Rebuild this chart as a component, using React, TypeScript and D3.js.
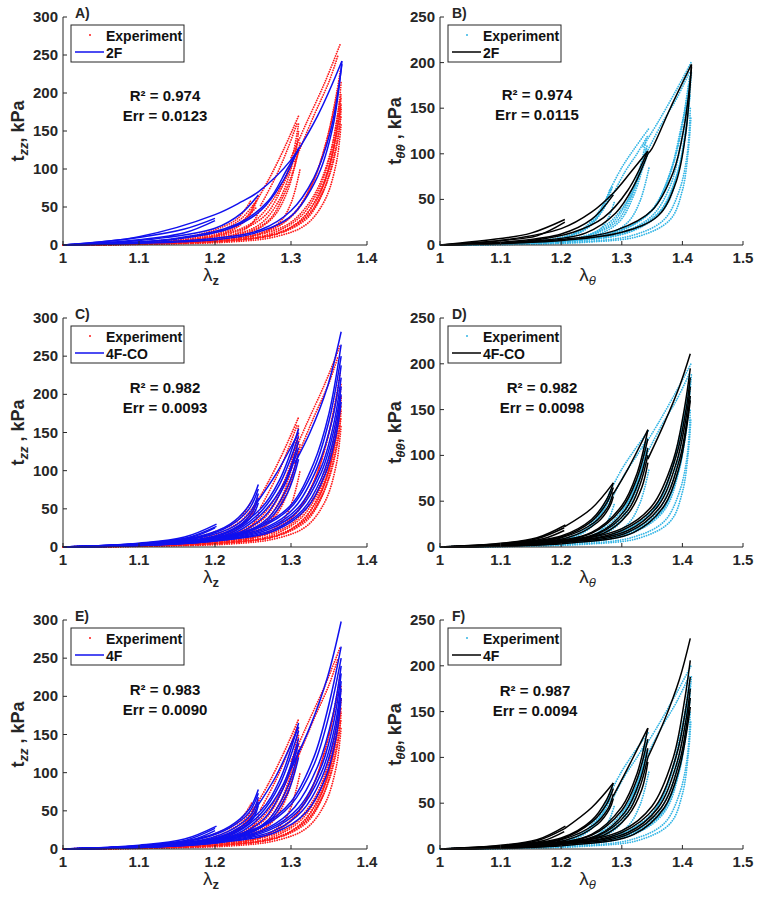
import React from "react";
import * as d3 from "d3";

type Pt = [number, number];

// ---------- tick values ----------
const xTicksAxial = [1, 1.1, 1.2, 1.3, 1.4];
const xTicksCirc = [1, 1.1, 1.2, 1.3, 1.4, 1.5];
const yTicksAxial = [0, 50, 100, 150, 200, 250, 300];
const yTicksCirc = [0, 50, 100, 150, 200, 250];

// ---------- annotations ----------
const panelLetters = ["A)", "B)", "C)", "D)", "E)", "F)"];
const modelNames = ["2F", "2F", "4F-CO", "4F-CO", "4F", "4F"];
const r2Values = ["0.974", "0.974", "0.982", "0.982", "0.983", "0.987"];
const errValues = ["0.0123", "0.0115", "0.0093", "0.0098", "0.0090", "0.0094"];

// ---------- experimental data (axial, lambda_z vs t_zz) ----------
const expAxial: Pt[][] = [
  [[1, 0], [1.1, 3], [1.17, 9], [1.21, 20], [1.235, 35], [1.252, 55]],
  [[1, 0], [1.1, 2.5], [1.17, 8], [1.21, 17], [1.24, 35], [1.255, 60]],
  [[1, 0], [1.1, 2], [1.18, 8], [1.22, 18], [1.245, 38], [1.257, 65]],
  [[1, 0], [1.12, 3], [1.19, 10], [1.225, 22], [1.245, 40], [1.255, 50]],
  [[1, 0], [1.1, 3.5], [1.16, 10], [1.2, 20], [1.23, 35], [1.248, 60]],
  [[1, 0], [1.12, 2.5], [1.2, 8], [1.235, 18], [1.25, 30], [1.258, 45]],
  [[1, 0], [1.15, 4], [1.22, 12], [1.26, 28], [1.285, 60], [1.3, 100], [1.31, 140]],
  [[1, 0], [1.15, 4], [1.23, 13], [1.27, 32], [1.29, 65], [1.305, 105], [1.312, 135]],
  [[1, 0], [1.15, 5], [1.22, 15], [1.265, 38], [1.29, 80], [1.305, 120], [1.31, 150]],
  [[1, 0], [1.16, 4], [1.24, 14], [1.275, 35], [1.295, 70], [1.31, 125]],
  [[1, 0], [1.14, 5], [1.21, 14], [1.25, 30], [1.28, 65], [1.3, 110], [1.31, 160]],
  [[1, 0], [1.17, 4], [1.25, 12], [1.285, 30], [1.3, 55], [1.312, 100]],
  [[1.25, 50], [1.27, 85], [1.29, 125], [1.31, 170]],
  [[1.26, 52], [1.28, 90], [1.295, 125], [1.308, 160]],
  [[1.3, 115], [1.32, 160], [1.345, 215], [1.365, 265]],
  [[1.305, 110], [1.33, 170], [1.35, 215], [1.362, 250]],
  [[1, 0], [1.2, 6], [1.26, 14], [1.3, 30], [1.33, 65], [1.35, 115], [1.362, 175], [1.366, 215]],
  [[1, 0], [1.2, 5], [1.27, 14], [1.31, 35], [1.335, 70], [1.352, 120], [1.364, 190]],
  [[1, 0], [1.2, 5], [1.28, 15], [1.315, 35], [1.34, 75], [1.355, 125], [1.366, 200]],
  [[1, 0], [1.22, 6], [1.29, 18], [1.32, 40], [1.345, 85], [1.36, 145], [1.366, 185]],
  [[1, 0], [1.2, 7], [1.26, 16], [1.3, 38], [1.325, 75], [1.345, 130], [1.36, 200], [1.365, 230]],
  [[1, 0], [1.22, 6], [1.28, 14], [1.32, 34], [1.34, 65], [1.356, 115], [1.366, 170]],
  [[1, 0], [1.2, 6], [1.27, 18], [1.305, 42], [1.33, 85], [1.35, 150], [1.362, 205]],
  [[1, 0], [1.21, 5], [1.285, 16], [1.325, 42], [1.348, 95], [1.362, 160], [1.366, 195]],
  [[1, 0], [1.2, 4], [1.26, 10], [1.3, 22], [1.33, 48], [1.35, 90], [1.362, 140], [1.366, 180]],
  [[1, 0], [1.22, 4], [1.28, 11], [1.32, 27], [1.345, 60], [1.36, 110], [1.366, 160]],
];

// ---------- experimental data (circumferential, lambda_theta vs t_thetatheta) ----------
const expCirc: Pt[][] = [
  [[1, 0], [1.1, 2], [1.18, 6], [1.23, 15], [1.26, 32], [1.28, 60]],
  [[1, 0], [1.1, 2], [1.19, 6], [1.24, 17], [1.265, 35], [1.283, 55]],
  [[1, 0], [1.12, 2], [1.2, 7], [1.245, 20], [1.27, 40], [1.285, 65]],
  [[1, 0], [1.1, 2.5], [1.2, 8], [1.24, 20], [1.27, 45], [1.282, 62]],
  [[1, 0], [1.14, 2], [1.22, 6], [1.26, 15], [1.278, 30], [1.288, 48]],
  [[1, 0], [1.15, 3], [1.23, 8], [1.28, 22], [1.31, 48], [1.33, 80], [1.34, 105]],
  [[1, 0], [1.15, 3], [1.24, 9], [1.29, 25], [1.315, 52], [1.335, 90], [1.342, 110]],
  [[1, 0], [1.16, 3], [1.25, 9], [1.295, 25], [1.32, 55], [1.335, 85], [1.343, 100]],
  [[1, 0], [1.15, 3], [1.24, 10], [1.28, 25], [1.31, 50], [1.33, 85], [1.34, 115]],
  [[1, 0], [1.18, 3], [1.27, 10], [1.31, 25], [1.33, 48], [1.345, 85]],
  [[1.28, 60], [1.3, 85], [1.32, 105], [1.345, 128]],
  [[1.285, 55], [1.305, 80], [1.325, 100], [1.343, 120]],
  [[1.335, 108], [1.36, 135], [1.39, 170], [1.415, 201]],
  [[1.34, 100], [1.365, 132], [1.39, 160], [1.412, 190]],
  [[1, 0], [1.2, 4], [1.3, 14], [1.35, 32], [1.38, 65], [1.4, 120], [1.413, 180]],
  [[1, 0], [1.2, 4], [1.3, 13], [1.36, 35], [1.39, 75], [1.405, 125], [1.413, 165]],
  [[1, 0], [1.22, 4], [1.32, 16], [1.37, 40], [1.395, 85], [1.41, 150]],
  [[1, 0], [1.2, 5], [1.29, 15], [1.345, 35], [1.375, 70], [1.395, 115], [1.41, 175]],
  [[1, 0], [1.21, 4], [1.31, 14], [1.365, 38], [1.39, 75], [1.405, 120], [1.415, 190]],
  [[1, 0], [1.22, 5], [1.3, 16], [1.35, 38], [1.38, 80], [1.4, 135], [1.41, 160]],
  [[1, 0], [1.2, 5], [1.3, 17], [1.355, 42], [1.385, 90], [1.403, 145], [1.412, 185]],
  [[1, 0], [1.22, 3], [1.32, 11], [1.37, 28], [1.395, 60], [1.408, 100], [1.413, 150]],
  [[1, 0], [1.24, 3], [1.33, 10], [1.38, 28], [1.4, 60], [1.41, 105], [1.414, 140]],
];

// ---------- model 2F ----------
const model2FAxial: Pt[][] = [
  [[1, 0], [1.1, 10], [1.16, 21], [1.2, 35]],
  [[1, 0], [1.1, 7], [1.16, 16], [1.2, 32]],
  [[1, 0], [1.1, 11], [1.2, 40], [1.235, 57], [1.257, 70], [1.3, 112], [1.335, 170], [1.367, 242]],
  [[1, 0], [1.12, 8], [1.2, 22], [1.235, 42], [1.257, 66]],
  [[1, 0], [1.15, 8], [1.22, 22], [1.26, 45], [1.29, 85], [1.31, 128]],
  [[1, 0], [1.15, 9], [1.23, 28], [1.27, 58], [1.295, 100], [1.31, 125]],
  [[1, 0], [1.2, 7], [1.25, 15], [1.3, 38], [1.335, 90], [1.355, 155], [1.367, 242]],
  [[1, 0], [1.2, 9], [1.26, 20], [1.3, 45], [1.33, 88], [1.352, 150], [1.367, 238]],
];
const model2FCirc: Pt[][] = [
  [[1, 0], [1.1, 7], [1.15, 13], [1.206, 28]],
  [[1, 0], [1.1, 5], [1.16, 10], [1.206, 25]],
  [[1, 0], [1.1, 5], [1.2, 18], [1.25, 36], [1.286, 57], [1.315, 80], [1.343, 103]],
  [[1, 0], [1.12, 4], [1.2, 12], [1.25, 28], [1.286, 55]],
  [[1, 0], [1.15, 5], [1.22, 14], [1.27, 30], [1.31, 60], [1.343, 103]],
  [[1, 0], [1.15, 4], [1.24, 13], [1.29, 35], [1.32, 65], [1.343, 100]],
  [[1.343, 100], [1.35, 106], [1.38, 150], [1.415, 198]],
  [[1, 0], [1.2, 5], [1.3, 14], [1.36, 32], [1.39, 70], [1.405, 120], [1.415, 198]],
  [[1, 0], [1.2, 6], [1.29, 16], [1.35, 38], [1.385, 80], [1.403, 130], [1.415, 195]],
];

// ---------- model 4F-CO ----------
const model4FCOAxial: Pt[][] = [
  [[1, 0], [1.1, 5], [1.16, 13], [1.202, 30]],
  [[1, 0], [1.1, 4], [1.16, 11], [1.202, 27]],
  [[1, 0], [1.1, 4.5], [1.17, 13], [1.2, 25]],
  [[1, 0], [1.1, 4], [1.18, 14], [1.22, 30], [1.245, 55], [1.257, 82]],
  [[1, 0], [1.1, 4], [1.18, 13], [1.22, 28], [1.245, 50], [1.257, 76]],
  [[1, 0], [1.1, 3.5], [1.18, 12], [1.225, 27], [1.248, 48], [1.257, 70]],
  [[1, 0], [1.1, 3.5], [1.19, 12], [1.23, 27], [1.25, 47], [1.257, 64]],
  [[1, 0], [1.1, 3], [1.19, 11], [1.23, 25], [1.25, 42], [1.257, 58]],
  [[1, 0], [1.15, 6], [1.21, 17], [1.26, 50], [1.285, 88], [1.31, 155]],
  [[1, 0], [1.15, 6], [1.22, 18], [1.26, 46], [1.285, 82], [1.31, 145]],
  [[1, 0], [1.15, 5], [1.22, 16], [1.26, 42], [1.29, 82], [1.31, 138]],
  [[1, 0], [1.15, 5], [1.225, 16], [1.265, 40], [1.29, 78], [1.31, 130]],
  [[1, 0], [1.15, 5], [1.23, 16], [1.27, 38], [1.295, 78], [1.31, 122]],
  [[1, 0], [1.16, 5], [1.23, 15], [1.27, 35], [1.295, 70], [1.31, 115]],
  [[1, 0], [1.2, 12], [1.26, 28], [1.3, 55], [1.33, 110], [1.35, 175], [1.366, 265]],
  [[1, 0], [1.2, 11], [1.26, 26], [1.3, 52], [1.33, 102], [1.35, 165], [1.366, 250]],
  [[1, 0], [1.2, 10], [1.27, 27], [1.305, 52], [1.335, 105], [1.355, 170], [1.366, 238]],
  [[1, 0], [1.2, 10], [1.27, 25], [1.31, 52], [1.34, 105], [1.357, 165], [1.366, 222]],
  [[1, 0], [1.2, 9], [1.27, 23], [1.31, 48], [1.34, 98], [1.358, 160], [1.366, 210]],
  [[1, 0], [1.2, 8], [1.28, 24], [1.315, 48], [1.34, 90], [1.358, 150], [1.366, 200]],
  [[1, 0], [1.2, 8], [1.28, 22], [1.32, 50], [1.345, 95], [1.36, 150], [1.366, 190]],
  [[1.305, 110], [1.325, 150], [1.348, 210], [1.366, 282]],
  [[1.255, 58], [1.28, 95], [1.31, 150]],
];
const model4FCOCirc: Pt[][] = [
  [[1, 0], [1.1, 4], [1.16, 10], [1.207, 24]],
  [[1, 0], [1.1, 3.5], [1.16, 9], [1.205, 21]],
  [[1, 0], [1.1, 3], [1.17, 9], [1.205, 18]],
  [[1, 0], [1.1, 3], [1.2, 12], [1.25, 30], [1.275, 52], [1.286, 70]],
  [[1, 0], [1.1, 3], [1.2, 11], [1.25, 28], [1.275, 48], [1.286, 65]],
  [[1, 0], [1.1, 2.5], [1.2, 10], [1.255, 27], [1.278, 45], [1.286, 60]],
  [[1, 0], [1.1, 2.5], [1.21, 10], [1.26, 27], [1.28, 44], [1.286, 55]],
  [[1, 0], [1.15, 4], [1.25, 16], [1.3, 45], [1.325, 80], [1.343, 128]],
  [[1, 0], [1.15, 4], [1.25, 15], [1.3, 42], [1.325, 75], [1.343, 118]],
  [[1, 0], [1.15, 4], [1.26, 15], [1.305, 40], [1.33, 75], [1.343, 108]],
  [[1, 0], [1.15, 3.5], [1.26, 14], [1.31, 40], [1.33, 68], [1.343, 100]],
  [[1, 0], [1.16, 3.5], [1.27, 15], [1.31, 36], [1.333, 65], [1.343, 92]],
  [[1, 0], [1.2, 6], [1.3, 20], [1.35, 45], [1.385, 95], [1.403, 150], [1.413, 195]],
  [[1, 0], [1.2, 5], [1.3, 18], [1.355, 45], [1.39, 100], [1.406, 150], [1.413, 185]],
  [[1, 0], [1.2, 5], [1.31, 18], [1.36, 45], [1.39, 92], [1.407, 145], [1.413, 175]],
  [[1, 0], [1.2, 5], [1.31, 16], [1.365, 45], [1.395, 95], [1.408, 140], [1.413, 165]],
  [[1, 0], [1.21, 4], [1.32, 16], [1.37, 45], [1.395, 88], [1.408, 135], [1.413, 160]],
  [[1.205, 22], [1.25, 42], [1.286, 70]],
  [[1.286, 58], [1.31, 85], [1.343, 128]],
  [[1.343, 96], [1.37, 135], [1.395, 175], [1.413, 211]],
];

// ---------- model 4F ----------
const model4FAxial: Pt[][] = [
  [[1, 0], [1.1, 5], [1.16, 13], [1.202, 30]],
  [[1, 0], [1.1, 4], [1.16, 11], [1.2, 27]],
  [[1, 0], [1.1, 4], [1.17, 12], [1.2, 24]],
  [[1, 0], [1.1, 4], [1.18, 14], [1.22, 30], [1.245, 52], [1.257, 78]],
  [[1, 0], [1.1, 4], [1.18, 13], [1.22, 28], [1.245, 48], [1.257, 73]],
  [[1, 0], [1.1, 3.5], [1.185, 12], [1.225, 27], [1.248, 46], [1.257, 68]],
  [[1, 0], [1.1, 3.5], [1.19, 12], [1.23, 26], [1.25, 44], [1.257, 62]],
  [[1, 0], [1.1, 3], [1.19, 11], [1.23, 24], [1.25, 40], [1.257, 57]],
  [[1, 0], [1.15, 6], [1.21, 17], [1.26, 50], [1.285, 90], [1.31, 165]],
  [[1, 0], [1.15, 6], [1.22, 18], [1.26, 46], [1.285, 84], [1.31, 155]],
  [[1, 0], [1.15, 5], [1.22, 16], [1.26, 42], [1.29, 85], [1.31, 145]],
  [[1, 0], [1.15, 5], [1.225, 16], [1.265, 40], [1.29, 80], [1.31, 138]],
  [[1, 0], [1.15, 5], [1.23, 16], [1.27, 38], [1.295, 80], [1.31, 130]],
  [[1, 0], [1.16, 5], [1.23, 15], [1.27, 35], [1.295, 72], [1.31, 120]],
  [[1, 0], [1.2, 12], [1.26, 30], [1.3, 62], [1.33, 120], [1.35, 190], [1.366, 265]],
  [[1, 0], [1.2, 11], [1.26, 28], [1.3, 58], [1.33, 110], [1.35, 175], [1.366, 250]],
  [[1, 0], [1.2, 10], [1.27, 28], [1.305, 55], [1.335, 108], [1.355, 175], [1.366, 240]],
  [[1, 0], [1.2, 10], [1.27, 26], [1.31, 54], [1.34, 108], [1.357, 170], [1.366, 230]],
  [[1, 0], [1.2, 9], [1.27, 24], [1.31, 50], [1.34, 100], [1.358, 162], [1.366, 220]],
  [[1, 0], [1.2, 8], [1.28, 25], [1.315, 50], [1.34, 92], [1.358, 152], [1.366, 210]],
  [[1, 0], [1.2, 8], [1.28, 22], [1.32, 48], [1.345, 92], [1.36, 150], [1.366, 198]],
  [[1.3, 105], [1.325, 160], [1.348, 225], [1.366, 298]],
  [[1.255, 55], [1.28, 95], [1.31, 160]],
];
const model4FCirc: Pt[][] = [
  [[1, 0], [1.1, 4], [1.16, 10], [1.207, 25]],
  [[1, 0], [1.1, 3.5], [1.16, 9], [1.205, 22]],
  [[1, 0], [1.1, 3], [1.17, 9], [1.205, 19]],
  [[1, 0], [1.1, 3], [1.2, 12], [1.25, 31], [1.275, 54], [1.286, 72]],
  [[1, 0], [1.1, 3], [1.2, 11], [1.25, 29], [1.275, 49], [1.286, 66]],
  [[1, 0], [1.1, 2.5], [1.2, 10], [1.255, 27], [1.278, 45], [1.286, 60]],
  [[1, 0], [1.1, 2.5], [1.21, 10], [1.26, 27], [1.28, 44], [1.286, 55]],
  [[1, 0], [1.15, 4], [1.25, 16], [1.3, 46], [1.325, 82], [1.343, 132]],
  [[1, 0], [1.15, 4], [1.25, 15], [1.3, 42], [1.325, 76], [1.343, 120]],
  [[1, 0], [1.15, 4], [1.26, 15], [1.305, 40], [1.33, 75], [1.343, 110]],
  [[1, 0], [1.15, 3.5], [1.26, 14], [1.31, 40], [1.33, 68], [1.343, 100]],
  [[1, 0], [1.16, 3.5], [1.27, 15], [1.31, 36], [1.333, 65], [1.343, 95]],
  [[1, 0], [1.2, 6], [1.3, 20], [1.35, 47], [1.385, 100], [1.403, 160], [1.413, 206]],
  [[1, 0], [1.2, 5], [1.3, 18], [1.355, 46], [1.39, 102], [1.406, 155], [1.413, 188]],
  [[1, 0], [1.2, 5], [1.31, 18], [1.36, 45], [1.39, 92], [1.407, 145], [1.413, 175]],
  [[1, 0], [1.2, 5], [1.31, 16], [1.365, 45], [1.395, 95], [1.408, 140], [1.413, 165]],
  [[1, 0], [1.21, 4], [1.32, 16], [1.37, 45], [1.395, 88], [1.408, 132], [1.413, 155]],
  [[1.205, 22], [1.25, 45], [1.286, 72]],
  [[1.286, 58], [1.315, 95], [1.343, 132]],
  [[1.343, 100], [1.37, 140], [1.395, 185], [1.413, 230]],
];

// ---------- rendering ----------
const FONT = "'Liberation Sans', Arial, Helvetica, sans-serif";
const AXIS = "#262626";
const RED = "#ff1a1a";
const BLUE = "#1010ee";
const CYAN = "#33b5e5";
const BLACK = "#000000";

interface PanelProps {
  idx: number;
  left: number;
  right: number;
  top: number;
  bottom: number;
  axial: boolean;
  exp: Pt[][];
  model: Pt[][];
  r2Dy: number;
  r2Cx: number;
}

function Panel(p: PanelProps) {
  const xDomain = p.axial ? [1, 1.4] : [1, 1.5];
  const yDomain = p.axial ? [0, 300] : [0, 250];
  const xTicks = p.axial ? xTicksAxial : xTicksCirc;
  const yTicks = p.axial ? yTicksAxial : yTicksCirc;
  const xs = d3.scaleLinear().domain(xDomain).range([p.left, p.right]);
  const ys = d3.scaleLinear().domain(yDomain).range([p.bottom, p.top]);
  const line = d3
    .line<Pt>()
    .x((d) => xs(d[0]))
    .y((d) => ys(d[1]))
    .curve(d3.curveCatmullRom.alpha(0.5));
  const expColor = p.axial ? RED : CYAN;
  const modelColor = p.axial ? BLUE : BLACK;
  const lgX = p.left + 8;
  const lgY = p.top + 8;
  const midX = (p.left + p.right) / 2;
  const midY = (p.top + p.bottom) / 2;
  const sub = p.axial ? "zz" : "\u03B8\u03B8";
  return (
    <g>
      {p.exp.map((c, i) => (
        <path
          key={"e" + i}
          d={line(c) || ""}
          fill="none"
          stroke={expColor}
          strokeWidth={1.8}
          strokeLinecap="round"
          strokeDasharray="0.01 2.4"
        />
      ))}
      {p.model.map((c, i) => (
        <path
          key={"m" + i}
          d={line(c) || ""}
          fill="none"
          stroke={modelColor}
          strokeWidth={1.5}
          strokeLinejoin="round"
        />
      ))}
      <line x1={p.left} x2={p.left} y1={p.top} y2={p.bottom} stroke={AXIS} strokeWidth={1} />
      <line x1={p.left} x2={p.right} y1={p.bottom} y2={p.bottom} stroke={AXIS} strokeWidth={1} />
      {xTicks.map((t) => (
        <g key={"xt" + t}>
          <line x1={xs(t)} x2={xs(t)} y1={p.bottom} y2={p.bottom - 4} stroke={AXIS} strokeWidth={1} />
          <text
            x={xs(t)}
            y={p.bottom + 18}
            textAnchor="middle"
            fontFamily={FONT}
            fontWeight="bold"
            fontSize={15}
            fill="#262626"
          >
            {d3.format("~g")(t)}
          </text>
        </g>
      ))}
      {yTicks.map((t) => (
        <g key={"yt" + t}>
          <line x1={p.left} x2={p.left + 4} y1={ys(t)} y2={ys(t)} stroke={AXIS} strokeWidth={1} />
          <text
            x={p.left - 5}
            y={ys(t) + 5}
            textAnchor="end"
            fontFamily={FONT}
            fontWeight="bold"
            fontSize={15}
            fill="#262626"
          >
            {t}
          </text>
        </g>
      ))}
      <text x={midX - 4} y={p.bottom + 36} textAnchor="middle" fontFamily={FONT} fontSize={19} fill="#262626">
        {"\u03BB"}
        <tspan
          dy={4}
          fontSize={13}
          fontStyle={p.axial ? "normal" : "italic"}
          fontWeight={p.axial ? "bold" : "normal"}
        >
          {p.axial ? "z" : "\u03B8"}
        </tspan>
      </text>
      <text
        transform={`translate(${p.left - 39},${midY}) rotate(-90)`}
        textAnchor="middle"
        fontFamily={FONT}
        fontWeight="bold"
        fontSize={18}
        fill="#262626"
      >
        t
        <tspan dy={4} fontSize={13} fontStyle="italic">
          {sub}
        </tspan>
        <tspan dy={-4}>{p.idx === 0 || p.idx === 3 || p.idx === 5 ? ", kPa" : " , kPa"}</tspan>
      </text>
      <text x={p.left + 12} y={p.top + 1} fontFamily={FONT} fontWeight="bold" fontSize={14} fill="#262626">
        {panelLetters[p.idx]}
      </text>
      <rect x={lgX} y={lgY} width={113} height={37} fill="white" stroke={AXIS} strokeWidth={1} />
      <circle cx={lgX + 19} cy={lgY + 10} r={1} fill={expColor} />
      <text x={lgX + 35} y={lgY + 15.5} fontFamily={FONT} fontWeight="bold" fontSize={14} fill="#111">
        Experiment
      </text>
      <line x1={lgX + 4} x2={lgX + 33} y1={lgY + 27} y2={lgY + 27} stroke={modelColor} strokeWidth={1.5} />
      <text x={lgX + 35} y={lgY + 32.5} fontFamily={FONT} fontWeight="bold" fontSize={14} fill="#111">
        {modelNames[p.idx]}
      </text>
      <text
        x={p.r2Cx}
        y={p.top + p.r2Dy}
        textAnchor="middle"
        fontFamily={FONT}
        fontWeight="bold"
        fontSize={15}
        fill="#111"
      >
        {"R\u00B2 = " + r2Values[p.idx]}
      </text>
      <text
        x={p.r2Cx}
        y={p.top + p.r2Dy + 20}
        textAnchor="middle"
        fontFamily={FONT}
        fontWeight="bold"
        fontSize={15}
        fill="#111"
      >
        {"Err = " + errValues[p.idx]}
      </text>
    </g>
  );
}

export default function App() {
  const cols = [
    { left: 63, right: 367 },
    { left: 440, right: 743 },
  ];
  const rows = [
    { top: 17, bottom: 245 },
    { top: 318, bottom: 547 },
    { top: 620, bottom: 849 },
  ];
  const models = [model2FAxial, model2FCirc, model4FCOAxial, model4FCOCirc, model4FAxial, model4FCirc];
  const r2Dy = [84, 83, 75, 75, 75, 76];
  const r2Cx = [165, 537, 165, 542, 165, 535];
  return (
    <svg
      width={758}
      height={900}
      style={{ position: "absolute", left: 0, top: 0, background: "white" }}
      xmlns="http://www.w3.org/2000/svg"
    >
      <rect x={0} y={0} width={758} height={900} fill="white" />
      {[0, 1, 2, 3, 4, 5].map((i) => {
        const c = cols[i % 2];
        const r = rows[Math.floor(i / 2)];
        const axial = i % 2 === 0;
        return (
          <Panel
            key={i}
            idx={i}
            left={c.left}
            right={c.right}
            top={r.top}
            bottom={r.bottom}
            axial={axial}
            exp={axial ? expAxial : expCirc}
            model={models[i]}
            r2Dy={r2Dy[i]}
            r2Cx={r2Cx[i]}
          />
        );
      })}
    </svg>
  );
}
